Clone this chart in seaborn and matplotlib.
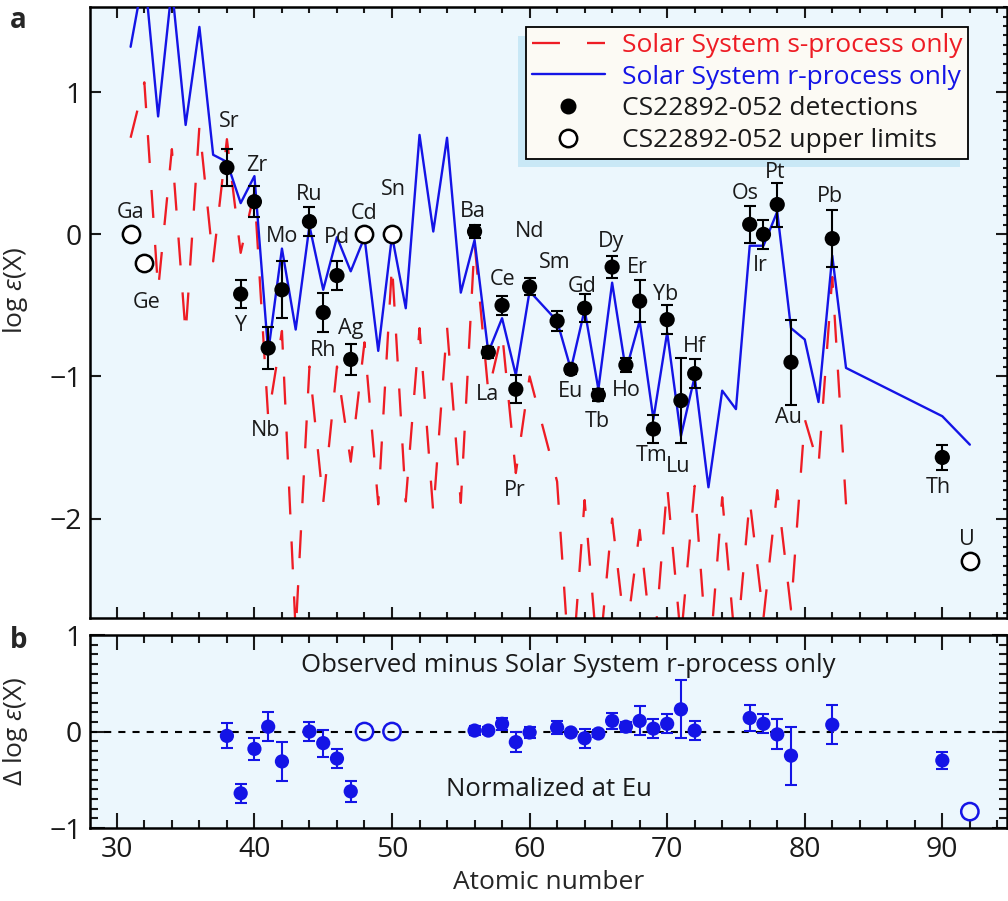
import matplotlib
matplotlib.use("Agg")
import matplotlib.pyplot as plt
from matplotlib.lines import Line2D
from matplotlib.ticker import MultipleLocator
import pandas as pd
import seaborn as sns

# ---------------------------------------------------------------- data
# Solar System s-process only curve (scaled), Pm omitted
s_z = [31, 32, 33, 34, 35, 36, 37, 38, 39, 40, 41, 42, 43, 44, 45, 46, 47, 48,
       49, 50, 51, 52, 53, 54, 55, 56, 57, 58, 59, 60, 62, 63, 64, 65, 66, 67,
       68, 69, 70, 71, 72, 73, 74, 75, 76, 77, 78, 79, 80, 81, 82, 83]
s_logeps = [0.68, 1.07, -0.39, 0.60, -0.70, 0.76, -0.19, 0.67, -0.13, 0.30,
            -1.29, -0.68, -2.80, -0.93, -1.89, -0.93, -1.60, -0.76, -1.90, -0.21,
            -1.88, -0.66, -1.96, -0.65, -1.89, -0.06, -1.11, -0.69, -1.68, -1.00,
            -1.74, -3.20, -1.87, -3.05, -2.00, -2.85, -2.08, -3.00, -1.77, -2.85,
            -1.77, -3.10, -1.85, -2.95, -1.87, -2.70, -1.80, -2.64, -1.30, -1.63,
            -0.30, -1.90]

# Solar System r-process only curve, normalised at Eu
r_z = [31, 32, 33, 34, 35, 36, 37, 38, 39, 40, 41, 42, 43, 44, 45, 46, 47, 48,
       49, 50, 51, 52, 53, 54, 55, 56, 57, 58, 59, 60, 62, 63, 64, 65, 66, 67,
       68, 69, 70, 71, 72, 73, 74, 75, 76, 77, 78, 79, 80, 81, 82, 83, 90, 92]
r_logeps = [1.32, 1.85, 0.83, 1.74, 0.77, 1.46, 0.56, 0.51, 0.22, 0.41,
            -0.83, -0.10, -0.67, 0.06, -0.39, -0.02, -0.26, -0.02, -0.82, -0.01,
            -0.52, 0.70, 0.02, 0.68, -0.41, -0.04, -0.83, -0.59, -0.99, -0.40,
            -0.61, -0.95, -0.53, -1.09, -0.34, -0.96, -0.61, -1.30, -0.69, -1.42,
            -1.00, -1.78, -1.10, -1.23, -0.08, -0.08, 0.16, -0.66, -0.74, -1.18,
            -0.15, -0.94, -1.28, -1.48]

# CS22892-052 detections
det_sym = ["Sr", "Y", "Zr", "Nb", "Mo", "Ru", "Rh", "Pd", "Ag", "Ba", "La", "Ce",
           "Pr", "Nd", "Sm", "Eu", "Gd", "Tb", "Dy", "Ho", "Er", "Tm", "Yb", "Lu",
           "Hf", "Os", "Ir", "Pt", "Au", "Pb", "Th"]
det_z = [38, 39, 40, 41, 42, 44, 45, 46, 47, 56, 57, 58, 59, 60, 62, 63, 64, 65,
         66, 67, 68, 69, 70, 71, 72, 76, 77, 78, 79, 82, 90]
det_logeps = [0.47, -0.42, 0.23, -0.80, -0.39, 0.09, -0.55, -0.29, -0.88, 0.02,
              -0.83, -0.50, -1.09, -0.37, -0.61, -0.95, -0.52, -1.13, -0.23, -0.92,
              -0.47, -1.37, -0.60, -1.17, -0.98, 0.07, 0.00, 0.21, -0.90, -0.03,
              -1.57]
det_err = [0.13, 0.10, 0.11, 0.15, 0.20, 0.10, 0.14, 0.10, 0.11, 0.045,
           0.04, 0.065, 0.10, 0.06, 0.07, 0.03, 0.10, 0.04, 0.08, 0.05,
           0.15, 0.10, 0.10, 0.30, 0.10, 0.13, 0.10, 0.155, 0.30, 0.20,
           0.09]
# observed minus Solar System r-process
det_delta = [-0.045, -0.64, -0.18, 0.05, -0.31, 0.00, -0.12, -0.28, -0.62, 0.01,
             0.01, 0.08, -0.11, -0.01, 0.04, -0.01, -0.07, -0.02, 0.11, 0.05,
             0.11, 0.03, 0.08, 0.23, 0.01, 0.14, 0.08, -0.03, -0.25, 0.07,
             -0.30]

# CS22892-052 upper limits
lim_sym = ["Ga", "Ge", "Cd", "Sn", "U"]
lim_z = [31, 32, 48, 50, 92]
lim_logeps = [0.00, -0.20, 0.00, 0.00, -2.30]
lim_delta_z = [48, 50, 92]
lim_delta = [0.00, 0.00, -0.83]

# label placement (pixels from the point)
det_label_off = [(2, 46), (0, -31), (2, 36), (-3, -82), (0, 53), (0, 27), (0, -38),
                 (0, 38), (0, 31), (-2, 20), (-1, -42), (0, 26), (-1, -101),
                 (0, 55), (-2, 59), (0, -22), (-2, 22), (-1, -27), (-1, 26),
                 (0, -25), (-2, 34), (-2, -26), (-2, 25), (-3, -66), (0, 27),
                 (-4, 31), (-3, -31), (-2, 32), (-3, -55), (-2, 42), (-4, -30)]
lim_label_off = [(0, 22), (2, -40), (0, 21), (1, 45), (-3, 22)]

RED = "#ee1c24"
BLUE = "#1414e6"
BG = "#ecf7fd"
INK = "#1a1a1a"

sns.set_theme(style="ticks")
plt.rcParams["font.family"] = ["Open Sans", "DejaVu Sans"]
plt.rcParams["mathtext.fontset"] = "custom"
plt.rcParams["mathtext.rm"] = "Open Sans"
plt.rcParams["mathtext.it"] = "Open Sans:italic"

fig = plt.figure(figsize=(10.08, 9.01), dpi=100)
ax = fig.add_axes([0.0893, 0.3141, 0.9097, 0.6781])
axb = fig.add_axes([0.0893, 0.0810, 0.9097, 0.2142])

s_df = pd.DataFrame({"Z": s_z, "logeps": s_logeps})
r_df = pd.DataFrame({"Z": r_z, "logeps": r_logeps})
det_df = pd.DataFrame({"Z": det_z, "logeps": det_logeps, "err": det_err,
                       "delta": det_delta, "sym": det_sym})
lim_df = pd.DataFrame({"Z": lim_z, "logeps": lim_logeps, "sym": lim_sym})
limb_df = pd.DataFrame({"Z": lim_delta_z, "delta": lim_delta})

# ---------------------------------------------------------------- panel a
ax.set_facecolor(BG)
sns.lineplot(data=s_df, x="Z", y="logeps", ax=ax, color=RED, lw=1.65,
             linestyle=(0, (12.2, 11.8)), estimator=None, sort=False, zorder=2)
sns.lineplot(data=r_df, x="Z", y="logeps", ax=ax, color=BLUE, lw=1.7,
             estimator=None, sort=False, zorder=3)
ax.errorbar(det_df["Z"], det_df["logeps"], yerr=det_df["err"], fmt="none",
            ecolor="black", elinewidth=1.5, capsize=4.5, capthick=1.5, zorder=4)
sns.scatterplot(data=det_df, x="Z", y="logeps", ax=ax, color="black", s=120,
                edgecolor="none", zorder=5)
sns.scatterplot(data=lim_df, x="Z", y="logeps", ax=ax, facecolor="white",
                edgecolor="black", linewidth=1.8, s=155, zorder=5)

for z, y, sym, (dx, dy) in zip(det_z, det_logeps, det_sym, det_label_off):
    ax.annotate(sym, (z, y), xytext=(dx, dy), textcoords="offset pixels",
                ha="center", va="center", fontsize=15.5, color=INK, zorder=6)
for z, y, sym, (dx, dy) in zip(lim_z, lim_logeps, lim_sym, lim_label_off):
    ax.annotate(sym, (z, y), xytext=(dx, dy), textcoords="offset pixels",
                ha="center", va="center", fontsize=15.5, color=INK, zorder=6)

ax.set_xlim(28.05, 94.7)
ax.set_ylim(-2.7, 1.6)
ax.xaxis.set_major_locator(MultipleLocator(10))
ax.xaxis.set_minor_locator(MultipleLocator(2))
ax.yaxis.set_major_locator(MultipleLocator(1))
ax.yaxis.set_minor_locator(MultipleLocator(1 / 15))
ax.set_xticklabels([])
ax.set_xlabel("")
ax.set_ylabel(r"log $\varepsilon$(X)", fontsize=19)
ax.yaxis.set_label_coords(-0.065, 0.537)

handles = [
    Line2D([], [], color=RED, lw=1.65, linestyle=(0, (12.2, 11.8))),
    Line2D([], [], color=BLUE, lw=1.7),
    Line2D([], [], ls="none", marker="o", ms=10.5, mfc="black", mec="black"),
    Line2D([], [], ls="none", marker="o", ms=12.5, mfc="white", mec="black", mew=1.8),
]
labels = ["Solar System s-process only", "Solar System r-process only",
          "CS22892-052 detections", "CS22892-052 upper limits"]
leg = ax.legend(handles, labels, loc="upper right", bbox_to_anchor=(0.9575, 0.967),
                borderaxespad=0, fontsize=19, handlelength=2.75, handletextpad=0.65,
                labelspacing=0.25, borderpad=0.22, frameon=True, fancybox=False,
                facecolor="#fcfaf4", edgecolor="black", framealpha=1,
                shadow={"ox": -6, "oy": -6, "facecolor": "#c9e8f6",
                        "edgecolor": "none", "alpha": 1})
leg.get_frame().set_linewidth(1.3)
for txt, col in zip(leg.get_texts(), [RED, BLUE, INK, INK]):
    txt.set_color(col)

# ---------------------------------------------------------------- panel b
axb.set_facecolor(BG)
axb.axhline(0, color="black", lw=1.5, ls=(0, (3.4, 3.4)), zorder=1)
axb.errorbar(det_df["Z"], det_df["delta"], yerr=det_df["err"], fmt="none",
             ecolor=BLUE, elinewidth=1.5, capsize=4.5, capthick=1.5, zorder=3)
sns.scatterplot(data=det_df, x="Z", y="delta", ax=axb, color=BLUE, s=105,
                edgecolor="none", zorder=4)
sns.scatterplot(data=limb_df, x="Z", y="delta", ax=axb, facecolor="none",
                edgecolor=BLUE, linewidth=1.8, s=155, zorder=4)
axb.text(0.521, 0.84, "Observed minus Solar System r-process only",
         transform=axb.transAxes, ha="center", va="center", fontsize=18.5,
         color=INK)
axb.text(0.501, 0.20, "Normalized at Eu", transform=axb.transAxes, ha="center",
         va="center", fontsize=18.5, color=INK)

axb.set_xlim(28.05, 94.7)
axb.set_ylim(-1, 1)
axb.xaxis.set_major_locator(MultipleLocator(10))
axb.xaxis.set_minor_locator(MultipleLocator(2))
axb.yaxis.set_major_locator(MultipleLocator(1))
axb.yaxis.set_minor_locator(MultipleLocator(0.1))
axb.set_xlabel("Atomic number", fontsize=19)
axb.set_ylabel(r"$\Delta$ log $\varepsilon$(X)", fontsize=19)
axb.yaxis.set_label_coords(-0.065, 0.5)

for a in (ax, axb):
    a.tick_params(which="both", direction="in", top=True, right=True,
                  width=1.5, labelsize=20.5, colors=INK, pad=6)
    a.tick_params(which="major", length=8)
    a.tick_params(which="minor", length=4.5)
    for sp in a.spines.values():
        sp.set_linewidth(1.8)
        sp.set_color("black")
# short minor ticks on the right edge of panel a only
ax.tick_params(axis="y", which="minor", left=False, right=True, length=3)
# longer ticks along the outer edges of panel b
axb.tick_params(axis="x", which="major", length=11)
axb.tick_params(axis="x", which="minor", length=6)
axb.tick_params(axis="y", which="minor", length=6)
axb.tick_params(axis="y", which="major", length=11)

fig.text(0.018, 0.977, "a", fontsize=20, fontweight="bold", ha="center", va="center")
fig.text(0.018, 0.289, "b", fontsize=20, fontweight="bold", ha="center", va="center")

fig.savefig("out.png", dpi=100)
